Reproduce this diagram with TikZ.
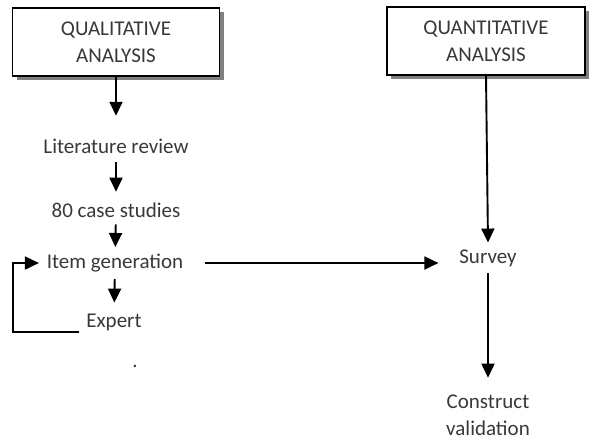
\documentclass[tikz,border=0pt]{standalone}
\usepackage{fontspec}
\setmainfont{Carlito}
\usetikzlibrary{arrows.meta,positioning,shadows}

\begin{document}
\begin{tikzpicture}[x=1pt,y=-1pt,->,>={Triangle[width=13pt,length=14pt]},line width=1.9pt,
                    every node/.style={align=center,text=black!78,inner sep=6pt,
                                       font=\fontsize{21}{27}\selectfont}]
  \tikzstyle{phase}=[draw=black,fill=white,line width=1.4pt,minimum width=207pt,
                     minimum height=68pt,
                     drop shadow={shadow xshift=4pt,shadow yshift=-4pt,fill=black!50,opacity=1}]
  \useasboundingbox (0,0) rectangle (591,440);

  \node[phase] (qual) at (116,42) {QUALITATIVE\\ANALYSIS};
  \node[phase,minimum width=198pt] (quant) at (486,41) {QUANTITATIVE\\ANALYSIS};

  \node (lit) at (116,146) {Literature review};
  \node (cases) at (116,210) {80 case studies};
  \node (item) at (115,263) {Item generation};
  \node (expert) at (114,322) {Expert};
  \node (dot) at (135,366) {.};
  \coordinate (loop) at (13,332);

  \node (survey) at (488,258) {Survey};
  \node (valid) at (488,415) {Construct\\validation};

  \path (qual.south) edge[shorten >=16pt] (lit.north)
        (lit) edge[shorten <=2pt,shorten >=4pt] (cases)
        (cases) edge (item)
        (item) edge[shorten >=4pt] (expert)
        (item.east) edge[shorten <=15pt,shorten >=14pt] (item.east -| survey.west)
        (quant.south) edge (survey.north)
        (survey) edge[shorten >=10pt] (valid);
  \draw[->,shorten >=1pt] (expert.west |- loop) -- (loop) |- (item.west);
\end{tikzpicture}
\end{document}
